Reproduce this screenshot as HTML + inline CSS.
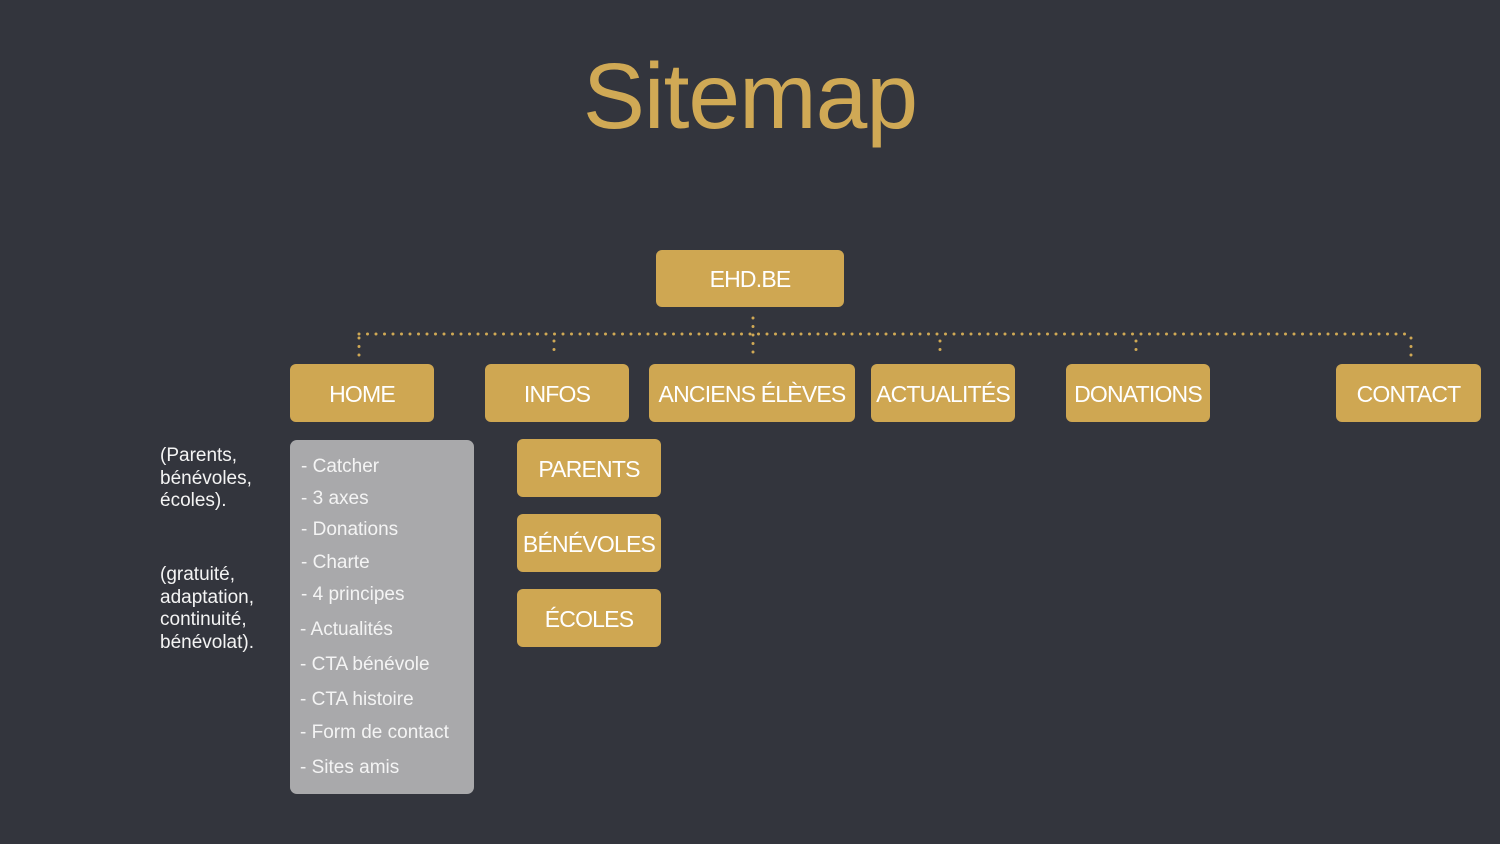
<!DOCTYPE html>
<html><head><meta charset="utf-8"><style>
body{margin:0;width:1500px;height:844px;background:#33353d;position:relative;overflow:hidden;font-family:"Liberation Sans",sans-serif}
.t{position:absolute;left:0;width:1500px;text-align:center;top:50px;font-size:93px;color:#d0a955;line-height:1;letter-spacing:-1px}
.b{position:absolute;background:#cfa752;border-radius:6px;color:#fff;font-size:23px;display:flex;align-items:center;justify-content:center;white-space:nowrap;letter-spacing:-0.8px;padding-top:2px;box-sizing:border-box}
.g{position:absolute;left:290px;top:440px;width:184px;height:354px;background:#a9a9ab;border-radius:7px}
.l{position:absolute;color:#f4f4f4;font-size:19px;white-space:nowrap}
.n{position:absolute;color:#f4f4f4;font-size:19px;line-height:22.5px;left:160px}
</style></head><body>
<div class="t">Sitemap</div>
<svg width="1500" height="844" style="position:absolute;left:0;top:0">
<g stroke="#d0a955" stroke-width="3" stroke-linecap="round" stroke-dasharray="0 8.5" fill="none">
<line x1="359" y1="334" x2="1411" y2="334"/>
<line x1="359" y1="338" x2="359" y2="356"/>
<line x1="554" y1="341" x2="554" y2="355"/>
<line x1="753" y1="318" x2="753" y2="358"/>
<line x1="940" y1="341" x2="940" y2="355"/>
<line x1="1136" y1="341" x2="1136" y2="355"/>
<line x1="1411" y1="338" x2="1411" y2="356"/>
</g></svg>
<div class="b" style="left:656px;top:250px;width:188px;height:57px">EHD.BE</div>
<div class="b" style="left:290px;top:364px;width:144px;height:58px">HOME</div>
<div class="b" style="left:485px;top:364px;width:144px;height:58px">INFOS</div>
<div class="b" style="left:649px;top:364px;width:206px;height:58px">ANCIENS ÉLÈVES</div>
<div class="b" style="left:871px;top:364px;width:144px;height:58px">ACTUALITÉS</div>
<div class="b" style="left:1066px;top:364px;width:144px;height:58px">DONATIONS</div>
<div class="b" style="left:1336px;top:364px;width:145px;height:58px">CONTACT</div>
<div class="b" style="left:517px;top:439px;width:144px;height:58px">PARENTS</div>
<div class="b" style="left:517px;top:514px;width:144px;height:58px">BÉNÉVOLES</div>
<div class="b" style="left:517px;top:589px;width:144px;height:58px">ÉCOLES</div>
<div class="g"></div>
<div class="l" style="left:301px;top:456px">- Catcher</div>
<div class="l" style="left:301px;top:488px">- 3 axes</div>
<div class="l" style="left:301px;top:519px">- Donations</div>
<div class="l" style="left:301px;top:552px">- Charte</div>
<div class="l" style="left:301px;top:584px">- 4 principes</div>
<div class="l" style="left:300px;top:619px">- Actualités</div>
<div class="l" style="left:300px;top:654px">- CTA bénévole</div>
<div class="l" style="left:300px;top:689px">- CTA histoire</div>
<div class="l" style="left:300px;top:722px">- Form de contact</div>
<div class="l" style="left:300px;top:757px">- Sites amis</div>
<div class="n" style="top:445px">(Parents,<br>bénévoles,<br>écoles).</div>
<div class="n" style="top:564px">(gratuité,<br>adaptation,<br>continuité,<br>bénévolat).</div>
</body></html>
